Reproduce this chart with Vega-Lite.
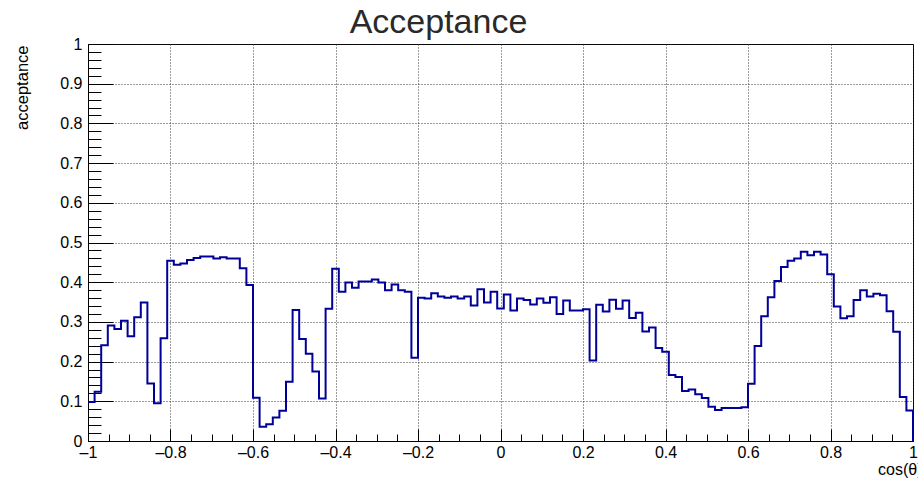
{
  "$schema": "https://vega.github.io/schema/vega-lite/v6.json",
  "width": 825,
  "height": 397,
  "autosize": {"type": "none"},
  "padding": {"left": 88, "top": 44, "right": 5, "bottom": 37},
  "background": "white",
  "title": {"text": "Acceptance", "font": "Liberation Sans", "fontSize": 34, "fontWeight": "normal", "color": "#2a2a2a", "anchor": "middle", "frame": "group", "dx": -62, "dy": 39, "baseline": "alphabetic", "offset": 8},
  "config": {"view": {"stroke": "#000", "strokeWidth": 1}},
  "data": {"values": [
    {"x": -1, "y": 0.098}, {"x": -0.984, "y": 0.124}, {"x": -0.968, "y": 0.241}, {"x": -0.952, "y": 0.291}, {"x": -0.936, "y": 0.282},
    {"x": -0.92, "y": 0.303}, {"x": -0.904, "y": 0.264}, {"x": -0.888, "y": 0.312}, {"x": -0.872, "y": 0.349}, {"x": -0.856, "y": 0.145},
    {"x": -0.84, "y": 0.095}, {"x": -0.824, "y": 0.259}, {"x": -0.808, "y": 0.454}, {"x": -0.792, "y": 0.444}, {"x": -0.776, "y": 0.447},
    {"x": -0.76, "y": 0.456}, {"x": -0.744, "y": 0.461}, {"x": -0.728, "y": 0.465}, {"x": -0.712, "y": 0.465}, {"x": -0.696, "y": 0.46},
    {"x": -0.68, "y": 0.463}, {"x": -0.664, "y": 0.46}, {"x": -0.648, "y": 0.46}, {"x": -0.632, "y": 0.435}, {"x": -0.616, "y": 0.393},
    {"x": -0.6, "y": 0.109}, {"x": -0.584, "y": 0.036}, {"x": -0.568, "y": 0.042}, {"x": -0.552, "y": 0.059}, {"x": -0.536, "y": 0.076},
    {"x": -0.52, "y": 0.149}, {"x": -0.504, "y": 0.33}, {"x": -0.488, "y": 0.257}, {"x": -0.472, "y": 0.22}, {"x": -0.456, "y": 0.175},
    {"x": -0.44, "y": 0.107}, {"x": -0.424, "y": 0.333}, {"x": -0.408, "y": 0.434}, {"x": -0.392, "y": 0.376}, {"x": -0.376, "y": 0.399},
    {"x": -0.36, "y": 0.386}, {"x": -0.344, "y": 0.402}, {"x": -0.328, "y": 0.402}, {"x": -0.312, "y": 0.407}, {"x": -0.296, "y": 0.399},
    {"x": -0.28, "y": 0.38}, {"x": -0.264, "y": 0.394}, {"x": -0.248, "y": 0.38}, {"x": -0.232, "y": 0.376}, {"x": -0.216, "y": 0.21},
    {"x": -0.2, "y": 0.361}, {"x": -0.184, "y": 0.359}, {"x": -0.168, "y": 0.372}, {"x": -0.152, "y": 0.364}, {"x": -0.136, "y": 0.361},
    {"x": -0.12, "y": 0.364}, {"x": -0.104, "y": 0.359}, {"x": -0.088, "y": 0.364}, {"x": -0.072, "y": 0.341}, {"x": -0.056, "y": 0.382},
    {"x": -0.04, "y": 0.349}, {"x": -0.024, "y": 0.376}, {"x": -0.008, "y": 0.334}, {"x": 0.008, "y": 0.369}, {"x": 0.024, "y": 0.329},
    {"x": 0.04, "y": 0.359}, {"x": 0.056, "y": 0.355}, {"x": 0.072, "y": 0.344}, {"x": 0.088, "y": 0.359}, {"x": 0.104, "y": 0.348},
    {"x": 0.12, "y": 0.362}, {"x": 0.136, "y": 0.32}, {"x": 0.152, "y": 0.354}, {"x": 0.168, "y": 0.329}, {"x": 0.184, "y": 0.329},
    {"x": 0.2, "y": 0.332}, {"x": 0.216, "y": 0.203}, {"x": 0.232, "y": 0.343}, {"x": 0.248, "y": 0.326}, {"x": 0.264, "y": 0.356},
    {"x": 0.28, "y": 0.333}, {"x": 0.296, "y": 0.354}, {"x": 0.312, "y": 0.31}, {"x": 0.328, "y": 0.323}, {"x": 0.344, "y": 0.276},
    {"x": 0.36, "y": 0.286}, {"x": 0.376, "y": 0.234}, {"x": 0.392, "y": 0.225}, {"x": 0.408, "y": 0.166}, {"x": 0.424, "y": 0.161},
    {"x": 0.44, "y": 0.126}, {"x": 0.456, "y": 0.13}, {"x": 0.472, "y": 0.118}, {"x": 0.488, "y": 0.108}, {"x": 0.504, "y": 0.086},
    {"x": 0.52, "y": 0.078}, {"x": 0.536, "y": 0.083}, {"x": 0.552, "y": 0.083}, {"x": 0.568, "y": 0.083}, {"x": 0.584, "y": 0.085},
    {"x": 0.6, "y": 0.144}, {"x": 0.616, "y": 0.239}, {"x": 0.632, "y": 0.314}, {"x": 0.648, "y": 0.362}, {"x": 0.664, "y": 0.403},
    {"x": 0.68, "y": 0.438}, {"x": 0.696, "y": 0.454}, {"x": 0.712, "y": 0.46}, {"x": 0.728, "y": 0.477}, {"x": 0.744, "y": 0.468},
    {"x": 0.76, "y": 0.477}, {"x": 0.776, "y": 0.47}, {"x": 0.792, "y": 0.42}, {"x": 0.808, "y": 0.339}, {"x": 0.824, "y": 0.309},
    {"x": 0.84, "y": 0.314}, {"x": 0.856, "y": 0.355}, {"x": 0.872, "y": 0.38}, {"x": 0.888, "y": 0.364}, {"x": 0.904, "y": 0.371},
    {"x": 0.92, "y": 0.367}, {"x": 0.936, "y": 0.327}, {"x": 0.952, "y": 0.275}, {"x": 0.968, "y": 0.111}, {"x": 0.984, "y": 0.077},
    {"x": 1, "y": 0}
  ]},
  "mark": {"type": "line", "interpolate": "step-after", "color": "#000099", "strokeWidth": 2},
  "encoding": {
    "x": {
      "field": "x", "type": "quantitative",
      "scale": {"domain": [-1, 1], "nice": false, "zero": false},
      "axis": {
        "values": [-1, -0.95, -0.9, -0.85, -0.8, -0.75, -0.7, -0.65, -0.6, -0.55, -0.5, -0.45, -0.4, -0.35, -0.3, -0.25, -0.2, -0.15, -0.1, -0.05, 0, 0.05, 0.1, 0.15, 0.2, 0.25, 0.3, 0.35, 0.4, 0.45, 0.5, 0.55, 0.6, 0.65, 0.7, 0.75, 0.8, 0.85, 0.9, 0.95, 1],
        "labelExpr": "abs(datum.value*5 - round(datum.value*5)) < 0.001 ? (datum.value < 0 ? '–' : '') + format(abs(datum.value), '') : ''",
        "labelFont": "Liberation Sans", "labelFontSize": 16, "labelColor": "#000",
        "labelPadding": 15, "labelFlush": false, "labelOverlap": false, "labelBound": false,
        "tickSize": {"condition": {"test": "abs(datum.value*5 - round(datum.value*5)) < 0.001", "value": -12}, "value": -7},
        "tickColor": "#000", "domainColor": "#000",
        "grid": true, "gridColor": "#222", "gridDash": [1, 2],
        "gridOpacity": {"condition": {"test": "abs(datum.value*5 - round(datum.value*5)) < 0.001", "value": 0.9}, "value": 0},
        "title": "cos(θ)", "titleFont": "Liberation Sans", "titleFontSize": 16, "titleFontWeight": "normal", "titleColor": "#000",
        "titleAlign": "right", "titleBaseline": "alphabetic", "titleX": 834, "titleY": 33
      }
    },
    "y": {
      "field": "y", "type": "quantitative",
      "scale": {"domain": [0, 1], "nice": false, "zero": true},
      "axis": {
        "values": [0, 0.02, 0.04, 0.06, 0.08, 0.1, 0.12, 0.14, 0.16, 0.18, 0.2, 0.22, 0.24, 0.26, 0.28, 0.3, 0.32, 0.34, 0.36, 0.38, 0.4, 0.42, 0.44, 0.46, 0.48, 0.5, 0.52, 0.54, 0.56, 0.58, 0.6, 0.62, 0.64, 0.66, 0.68, 0.7, 0.72, 0.74, 0.76, 0.78, 0.8, 0.82, 0.84, 0.86, 0.88, 0.9, 0.92, 0.94, 0.96, 0.98, 1],
        "labelExpr": "abs(datum.value*10 - round(datum.value*10)) < 0.001 ? format(datum.value, '') : ''",
        "labelFont": "Liberation Sans", "labelFontSize": 16, "labelColor": "#000",
        "labelPadding": 31, "labelFlush": false, "labelOverlap": false, "labelBound": false,
        "tickSize": {"condition": {"test": "abs(datum.value*10 - round(datum.value*10)) < 0.001", "value": -25}, "value": -13},
        "tickColor": "#000", "domainColor": "#000",
        "grid": true, "gridColor": "#222", "gridDash": [1, 2],
        "gridOpacity": {"condition": {"test": "abs(datum.value*10 - round(datum.value*10)) < 0.001", "value": 0.9}, "value": 0},
        "title": "acceptance", "titleFont": "Liberation Sans", "titleFontSize": 16.5, "titleFontWeight": "normal", "titleColor": "#000",
        "titleAngle": -90, "titleAlign": "right", "titleBaseline": "alphabetic", "titleX": -61, "titleY": 1
      }
    }
  }
}
